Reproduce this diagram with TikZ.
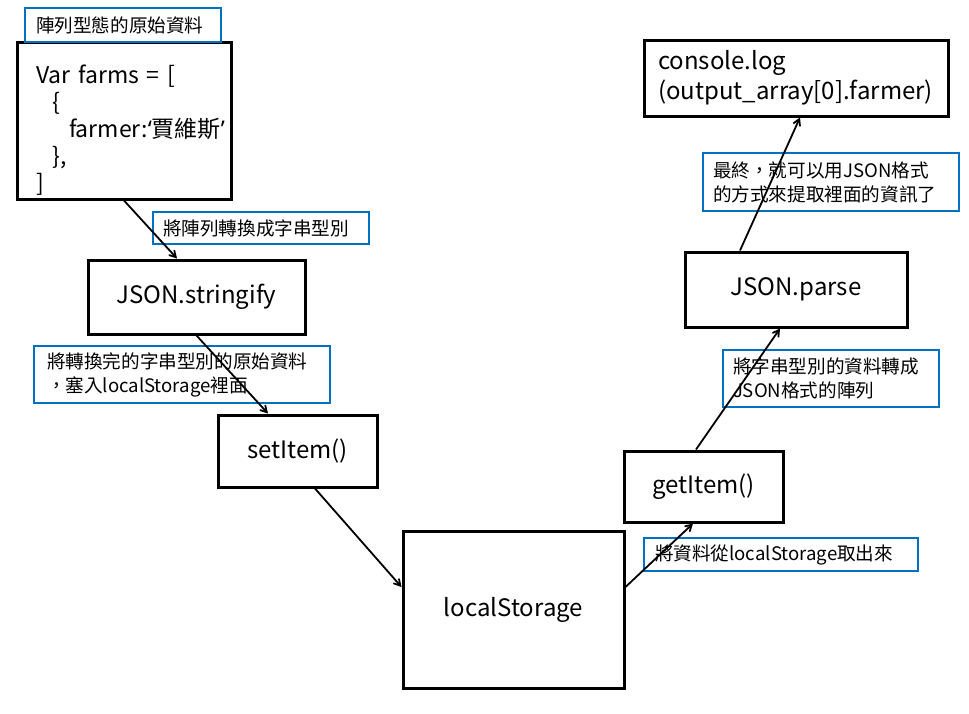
\documentclass[tikz,border=0pt]{standalone}
\usepackage{fontspec}
\setmainfont{Noto Sans CJK TC}
\newfontfamily\quotefont{Noto Sans}
\usepackage{tikz}
\usetikzlibrary{arrows, calc}
\usepackage{xcolor}
\definecolor{noteblue}{HTML}{0070C0}

\tikzset{
	codebox/.style={draw, line width=3pt, inner sep=0pt, font=\fontsize{24}{29}\selectfont},
	notebox/.style={draw=noteblue, line width=1.6pt, align=left, inner ysep=0pt, font=\fontsize{18.6}{24}\selectfont},
	flow/.style={line width=1.8pt, -angle 60}
}

\begin{document}
\begin{tikzpicture}[x=1pt, y=-1pt]
	\useasboundingbox (0,0) rectangle (969,713);
	% boxes
	\node [codebox, minimum width=214pt, minimum height=157pt, inner xsep=19pt, text width=176pt, align=left, font=\fontsize{23}{27}\selectfont] (farms) at (124,120.5)
		{\rule{0pt}{38pt}Var farms = [\\ \hspace*{17pt}\{\\ \hspace*{33pt}farmer:{\quotefont ‘}賈維斯{\quotefont ’}\\ \hspace*{17pt}\},\\ ]};
	\node [codebox, minimum width=217pt, minimum height=74pt] (stringify) at (196.5,297) {JSON.stringify};
	\node [codebox, minimum width=159pt, minimum height=72pt] (setitem) at (297.5,451) {setItem()};
	\node [codebox, minimum width=221pt, minimum height=157pt] (storage) at (513.5,609.5) {localStorage};
	\node [codebox, minimum width=159pt, minimum height=71pt] (getitem) at (703.5,486.5) {getItem()};
	\node [codebox, minimum width=222pt, minimum height=75pt] (parse) at (796,289.5) {JSON.parse};
	\node [codebox, minimum width=304pt, minimum height=76pt, inner xsep=14pt, text width=276pt, align=left, font=\fontsize{24}{30}\selectfont] (console) at (796,78)
		{console.log\\(output\_array[0].farmer)};
	% notes
	\node [notebox, minimum width=196pt, minimum height=34pt, inner xsep=11pt, text width=174pt] (raw) at (123,25) {陣列型態的原始資料};
	\node [notebox, minimum width=216pt, minimum height=32pt, inner xsep=10pt, text width=196pt] (tostr) at (261,228) {將陣列轉換成字串型別};
	\node [notebox, minimum width=296pt, minimum height=57pt, inner xsep=13pt, text width=270pt] (putin) at (182,374.5)
		{將轉換完的字串型別的原始資料\\，塞入localStorage裡面};
	\node [notebox, minimum width=274pt, minimum height=33pt, inner xsep=11pt, text width=252pt] (takeout) at (781,554.5) {將資料從localStorage取出來};
	\node [notebox, minimum width=216pt, minimum height=57pt, inner xsep=10pt, text width=196pt] (tojson) at (831,378.5)
		{將字串型別的資料轉成\\JSON格式的陣列};
	\node [notebox, minimum width=256pt, minimum height=58pt, inner xsep=10pt, text width=236pt] (final) at (831,182)
		{最終，就可以用JSON格式\\的方式來提取裡面的資訊了};
	% connectors
	\draw [flow] (farms.south) -- ([xshift=-19.5pt]stringify.north);
	\draw [flow] (stringify.south) -- ([xshift=-29.5pt]setitem.north);
	\draw [flow] ([xshift=17.5pt]setitem.south) -- ([yshift=22.5pt]storage.west);
	\draw [flow] ([yshift=22.5pt]storage.east) -- ([xshift=-10.5pt]getitem.south);
	\draw [flow] ([xshift=-7.5pt]getitem.north) -- ([xshift=-16pt]parse.south);
	\draw [flow] ([xshift=-56pt]parse.north) -- ([xshift=4pt]console.south);
\end{tikzpicture}
\end{document}
